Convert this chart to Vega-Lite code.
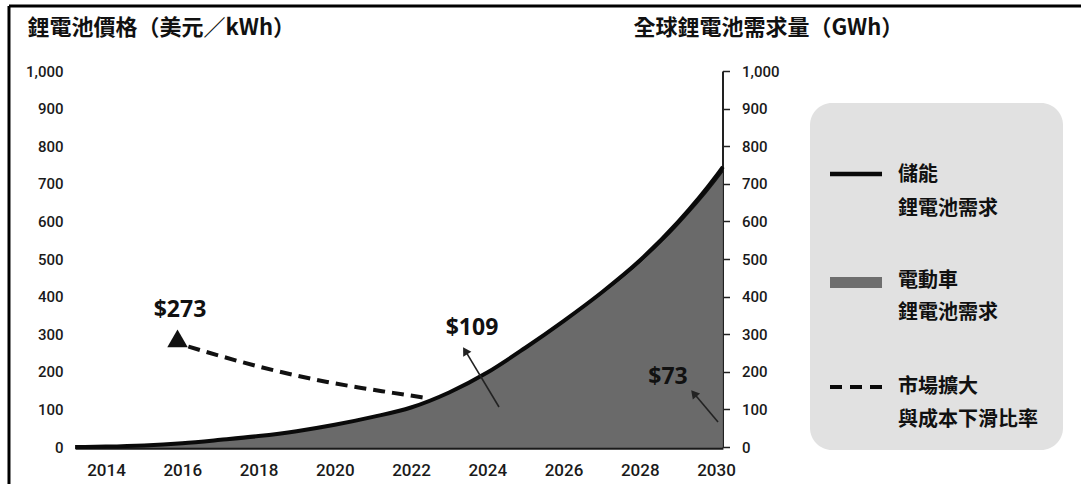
{
  "$schema": "https://vega.github.io/schema/vega-lite/v6.json",
  "width": 1072,
  "height": 478,
  "autosize": {"type": "none"},
  "padding": {"left": 9, "top": 6, "right": 0, "bottom": 0},
  "background": "#ffffff",
  "config": {
    "view": {"stroke": null},
    "axis": {"grid": false, "labelFont": "Roboto", "labelColor": "#1a1a1a", "titleFont": "Noto Sans CJK TC", "titleColor": "#111111"}
  },
  "datasets": {
    "demand": [
      {"year": 2013.19, "ev": 0, "total": 0},
      {"year": 2014, "ev": 1, "total": 1},
      {"year": 2015, "ev": 4, "total": 4},
      {"year": 2016, "ev": 10, "total": 10},
      {"year": 2017, "ev": 19, "total": 19},
      {"year": 2018, "ev": 29, "total": 29},
      {"year": 2019, "ev": 42, "total": 42},
      {"year": 2020, "ev": 59, "total": 59},
      {"year": 2021, "ev": 80, "total": 80},
      {"year": 2022, "ev": 105, "total": 105},
      {"year": 2023, "ev": 144, "total": 145},
      {"year": 2024, "ev": 196, "total": 198},
      {"year": 2025, "ev": 261, "total": 264},
      {"year": 2026, "ev": 331, "total": 335},
      {"year": 2027, "ev": 406, "total": 411},
      {"year": 2028, "ev": 489, "total": 496},
      {"year": 2029, "ev": 588, "total": 598},
      {"year": 2030, "ev": 706, "total": 720},
      {"year": 2030.18, "ev": 730, "total": 745}
    ],
    "price": [
      {"year": 2016.16, "price": 267},
      {"year": 2017, "price": 242},
      {"year": 2018.04, "price": 213},
      {"year": 2019, "price": 190},
      {"year": 2019.8, "price": 173},
      {"year": 2020.7, "price": 157},
      {"year": 2021.53, "price": 144},
      {"year": 2022.42, "price": 130}
    ],
    "start": [{"year": 2015.876, "price": 288.6}],
    "labels": [
      {"label": "$273", "year": 2015.941, "price": 364.4},
      {"label": "$109", "year": 2023.6, "price": 316.5},
      {"label": "$73", "year": 2028.74, "price": 186.2}
    ],
    "arrows": [
      {"label": "$109", "tail_year": 2024.308, "tail_price": 106.4, "head_year": 2023.421, "head_price": 256.1},
      {"label": "$73", "tail_year": 2030.052, "tail_price": 66.5, "head_year": 2029.417, "head_price": 142.8}
    ]
  },
  "layer": [
    {
      "data": {"name": "demand"},
      "layer": [
        {
          "mark": {"type": "area", "interpolate": "monotone", "color": "#111111"},
          "encoding": {
            "x": {
              "field": "year", "type": "quantitative",
              "scale": {"domain": [2013.19, 2030.18], "range": [66.1, 713.9], "nice": false, "zero": false},
              "axis": {
                "orient": "bottom", "offset": -36, "values": [2014, 2016, 2018, 2020, 2022, 2024, 2026, 2028, 2030],
                "format": "d", "domain": true, "domainColor": "#1a1a1a", "domainWidth": 2.5,
                "ticks": false, "tickSize": 0, "labelPadding": 14, "labelFlush": false,
                "labelFontSize": 17, "labelFontWeight": 500, "title": null
              }
            },
            "y": {
              "field": "total", "type": "quantitative",
              "scale": {"domain": [0, 1000], "range": [441, 65], "nice": false, "zero": false},
              "axis": {
                "orient": "right", "offset": -358.5, "values": [0, 100, 200, 300, 400, 500, 600, 700, 800, 900, 1000],
                "domain": true, "domainColor": "#222222", "domainWidth": 2,
                "ticks": true, "tickColor": "#222222", "tickWidth": 1.5, "tickSize": 7,
                "labelPadding": 12, "labelFontSize": 15, "labelFontWeight": 500,
                "title": "全球鋰電池需求量（GWh）", "titleAngle": 0, "titleAlign": "left", "titleBaseline": "middle",
                "titleX": -89.5, "titleY": 21, "titleFontSize": 22, "titleFontWeight": "bold"
              }
            }
          }
        },
        {
          "mark": {"type": "area", "interpolate": "monotone", "color": "#6a6a6a"},
          "encoding": {
            "x": {"field": "year", "type": "quantitative"},
            "y": {"field": "ev", "type": "quantitative"}
          }
        },
        {
          "mark": {"type": "line", "interpolate": "monotone", "color": "#0a0a0a", "strokeWidth": 4},
          "encoding": {
            "x": {"field": "year", "type": "quantitative"},
            "y": {"field": "total", "type": "quantitative"}
          }
        }
      ]
    },
    {
      "layer": [
        {
          "data": {"name": "price"},
          "mark": {"type": "line", "interpolate": "monotone", "color": "#111111", "strokeWidth": 4, "strokeDash": [12, 7]},
          "encoding": {
            "x": {"field": "year", "type": "quantitative"},
            "y": {
              "field": "price", "type": "quantitative",
              "scale": {"domain": [0, 1000], "range": [441, 65], "nice": false, "zero": false},
              "axis": {
                "orient": "left", "offset": -56, "values": [0, 100, 200, 300, 400, 500, 600, 700, 800, 900, 1000],
                "domain": false, "ticks": false, "tickSize": 0, "labelPadding": 2,
                "labelFontSize": 15, "labelFontWeight": 500,
                "title": "鋰電池價格（美元／kWh）", "titleAngle": 0, "titleAlign": "left", "titleBaseline": "middle",
                "titleX": -38, "titleY": 21, "titleFontSize": 22, "titleFontWeight": "bold"
              }
            }
          }
        },
        {
          "data": {"name": "start"},
          "mark": {"type": "point", "shape": "triangle-up", "filled": true, "size": 420, "color": "#111111", "opacity": 1},
          "encoding": {
            "x": {"field": "year", "type": "quantitative"},
            "y": {"field": "price", "type": "quantitative"}
          }
        },
        {
          "data": {"name": "arrows"},
          "mark": {"type": "rule", "color": "#222222", "strokeWidth": 1.6},
          "encoding": {
            "x": {"field": "tail_year", "type": "quantitative"},
            "x2": {"field": "head_year"},
            "y": {"field": "tail_price", "type": "quantitative"},
            "y2": {"field": "head_price"}
          }
        },
        {
          "data": {"name": "arrows"},
          "transform": [{"filter": "datum.label == '$109'"}],
          "mark": {"type": "point", "shape": "triangle-up", "filled": true, "size": 90, "angle": 329, "color": "#222222", "opacity": 1},
          "encoding": {
            "x": {"field": "head_year", "type": "quantitative"},
            "y": {"field": "head_price", "type": "quantitative"}
          }
        },
        {
          "data": {"name": "arrows"},
          "transform": [{"filter": "datum.label == '$73'"}],
          "mark": {"type": "point", "shape": "triangle-up", "filled": true, "size": 90, "angle": 320, "color": "#222222", "opacity": 1},
          "encoding": {
            "x": {"field": "head_year", "type": "quantitative"},
            "y": {"field": "head_price", "type": "quantitative"}
          }
        },
        {
          "data": {"name": "labels"},
          "mark": {"type": "text", "font": "Open Sans", "fontWeight": "bold", "fontSize": 23, "color": "#111111", "align": "center", "baseline": "middle"},
          "encoding": {
            "x": {"field": "year", "type": "quantitative"},
            "y": {"field": "price", "type": "quantitative"},
            "text": {"field": "label"}
          }
        },
        {
          "data": {"values": [{}]},
          "mark": {"type": "rect", "cornerRadius": 22, "fill": "#e1e1e1"},
          "encoding": {
            "x": {"datum": 2032.465, "type": "quantitative"},
            "x2": {"datum": 2039.1},
            "y": {"datum": 914.9, "type": "quantitative"},
            "y2": {"datum": -8}
          }
        },
        {
          "data": {"values": [{}]},
          "mark": {"type": "rule", "color": "#0a0a0a", "strokeWidth": 4.5},
          "encoding": {
            "x": {"datum": 2032.989, "type": "quantitative"},
            "x2": {"datum": 2034.353},
            "y": {"datum": 726.1, "type": "quantitative"}
          }
        },
        {
          "data": {"values": [{}]},
          "mark": {"type": "rect", "fill": "#6e6e6e"},
          "encoding": {
            "x": {"datum": 2032.989, "type": "quantitative"},
            "x2": {"datum": 2034.353},
            "y": {"datum": 452.1, "type": "quantitative"},
            "y2": {"datum": 422.9}
          }
        },
        {
          "data": {"values": [{}]},
          "mark": {"type": "rule", "color": "#0a0a0a", "strokeWidth": 4, "strokeDash": [12, 8]},
          "encoding": {
            "x": {"datum": 2032.989, "type": "quantitative"},
            "x2": {"datum": 2034.353},
            "y": {"datum": 159.6, "type": "quantitative"}
          }
        },
        {
          "data": {"values": [{}]},
          "mark": {"type": "text", "font": "Noto Sans CJK TC", "fontWeight": "bold", "fontSize": 20, "color": "#111111", "align": "left", "baseline": "middle", "lineBreak": "\n", "lineHeight": 34},
          "encoding": {
            "x": {"datum": 2034.773, "type": "quantitative"},
            "y": {"datum": 723.4, "type": "quantitative"},
            "text": {"value": "儲能\n鋰電池需求"}
          }
        },
        {
          "data": {"values": [{}]},
          "mark": {"type": "text", "font": "Noto Sans CJK TC", "fontWeight": "bold", "fontSize": 20, "color": "#111111", "align": "left", "baseline": "middle", "lineBreak": "\n", "lineHeight": 32},
          "encoding": {
            "x": {"datum": 2034.773, "type": "quantitative"},
            "y": {"datum": 440.4, "type": "quantitative"},
            "text": {"value": "電動車\n鋰電池需求"}
          }
        },
        {
          "data": {"values": [{}]},
          "mark": {"type": "text", "font": "Noto Sans CJK TC", "fontWeight": "bold", "fontSize": 20, "color": "#111111", "align": "left", "baseline": "middle", "lineBreak": "\n", "lineHeight": 33},
          "encoding": {
            "x": {"datum": 2034.773, "type": "quantitative"},
            "y": {"datum": 158.5, "type": "quantitative"},
            "text": {"value": "市場擴大\n與成本下滑比率"}
          }
        },
        {
          "data": {"values": [{}]},
          "mark": {"type": "rule", "color": "#000000", "strokeWidth": 3},
          "encoding": {
            "x": {"datum": 2011.456, "type": "quantitative"},
            "x2": {"datum": 2039.572},
            "y": {"datum": 1172.9, "type": "quantitative"}
          }
        },
        {
          "data": {"values": [{}]},
          "mark": {"type": "rule", "color": "#000000", "strokeWidth": 3},
          "encoding": {
            "x": {"datum": 2011.456, "type": "quantitative"},
            "y": {"datum": 1172.9, "type": "quantitative"},
            "y2": {"datum": -98.4}
          }
        }
      ]
    }
  ],
  "resolve": {"scale": {"y": "independent"}}
}
